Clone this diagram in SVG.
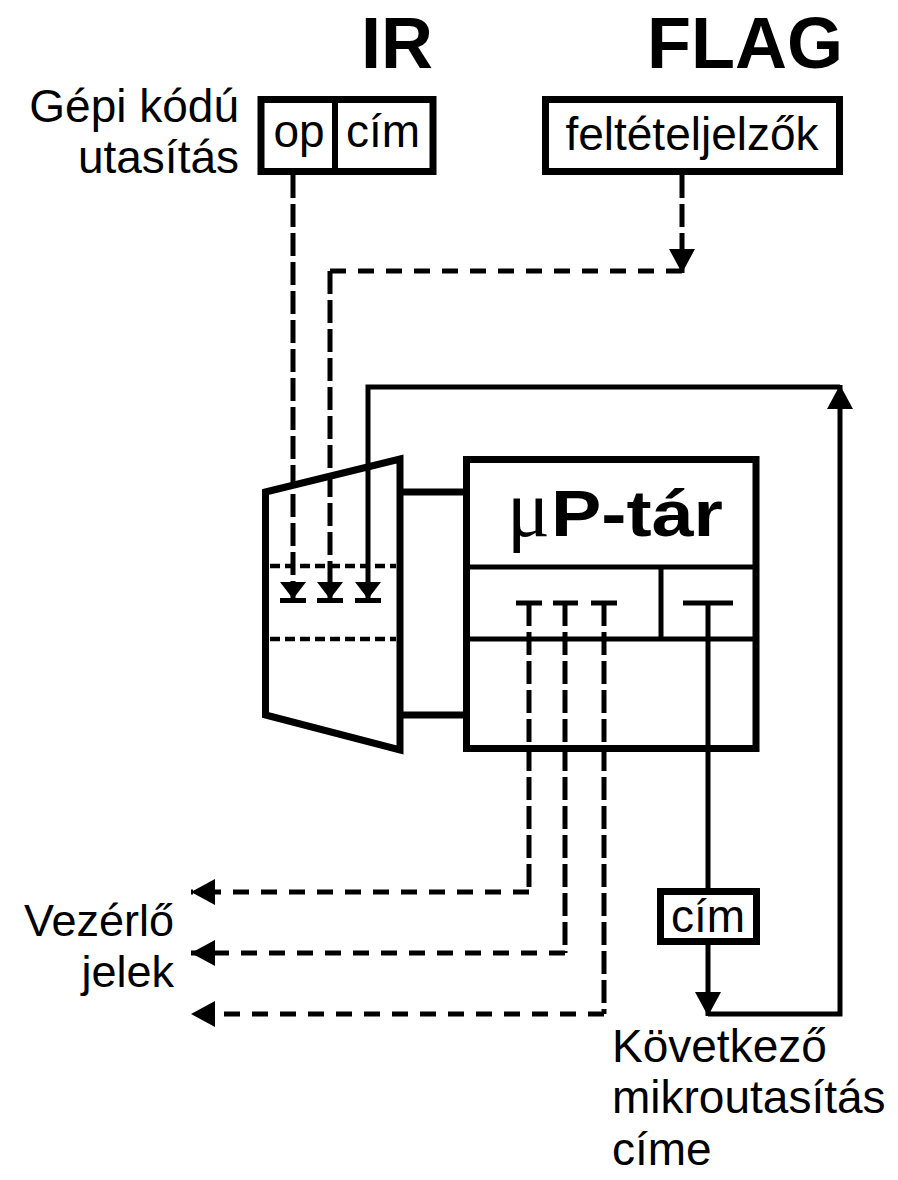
<svg xmlns="http://www.w3.org/2000/svg" width="898" height="1180" viewBox="0 0 898 1180">
<style>
text{font-family:"Liberation Sans",Arial,sans-serif;fill:#000}
.t{font-size:46px}
.big{font-size:72px;font-weight:bold}
.box{fill:#fff;stroke:#000;stroke-width:7}
.thin{fill:none;stroke:#000;stroke-width:5}
.dv{fill:none;stroke:#000;stroke-width:5;stroke-dasharray:23 6}
.dh{fill:none;stroke:#000;stroke-width:5;stroke-dasharray:16 12}
.dm{fill:none;stroke:#000;stroke-width:4.5;stroke-dasharray:10 5}
</style>
<defs>
<marker id="ah" markerUnits="userSpaceOnUse" markerWidth="30" markerHeight="30" refX="24" refY="13" orient="auto">
<path d="M0,0 L24,13 L0,26 Z" fill="#000"/>
</marker>
<marker id="am" markerUnits="userSpaceOnUse" markerWidth="30" markerHeight="30" refX="17" refY="13" orient="auto">
<path d="M0,0 L17,13 L0,26 Z" fill="#000"/>
<rect x="16" y="0" width="5" height="26" fill="#000"/>
</marker>
</defs>

<g id="ir">
<text class="big" x="433" y="68" text-anchor="end">IR</text>
<text class="t" x="239" y="122" text-anchor="end">Gépi kódú</text>
<text class="t" x="239" y="173" text-anchor="end">utasítás</text>
<rect class="box" x="261" y="99.5" width="172" height="72"/>
<line x1="335" y1="99" x2="335" y2="172" stroke="#000" stroke-width="6"/>
<text class="t" x="299" y="147" text-anchor="middle">op</text>
<text class="t" x="383" y="147" text-anchor="middle">cím</text>
</g>

<g id="flag">
<text class="big" x="843" y="68" text-anchor="end">FLAG</text>
<rect class="box" x="545.5" y="99.5" width="294" height="72"/>
<text class="t" x="692" y="150" text-anchor="middle">feltételjelzők</text>
</g>

<g id="mux">
<polygon class="box" points="265.5,492 400,459 400,750 265.5,715"/>
<line class="dm" x1="270" y1="566" x2="396" y2="566"/>
<line class="dm" x1="270" y1="639" x2="396" y2="639"/>
</g>

<g id="uptar">
<rect class="box" x="466.5" y="459.5" width="289.5" height="289"/>
<line class="thin" x1="466" y1="567" x2="756" y2="567"/>
<line class="thin" x1="466" y1="639" x2="756" y2="639"/>
<line class="thin" x1="661" y1="567" x2="661" y2="639"/>
<text x="507" y="536" style="font-family:'Liberation Serif',serif;font-size:80px">μ</text>
<text x="551" y="536" textLength="172" lengthAdjust="spacingAndGlyphs" style="font-size:65px;font-weight:bold">P-tár</text>
<line class="thin" x1="516" y1="603" x2="542" y2="603"/>
<line class="thin" x1="553" y1="603" x2="578" y2="603"/>
<line class="thin" x1="591" y1="603" x2="617" y2="603"/>
<line class="thin" x1="683" y1="603" x2="733" y2="603"/>
</g>

<g id="cim">
<rect class="box" x="660.5" y="891.5" width="96" height="50"/>
<text class="t" x="708" y="932" text-anchor="middle">cím</text>
</g>

<g id="labels">
<text x="174" y="936" text-anchor="end" style="font-size:45px">Vezérlő</text>
<text x="174" y="987" text-anchor="end" style="font-size:45px">jelek</text>
<text class="t" x="612" y="1062">Következő</text>
<text class="t" x="612" y="1113">mikroutasítás</text>
<text class="t" x="612" y="1165">címe</text>
</g>

<g id="connectors">
<line class="dv" x1="293" y1="175" x2="293" y2="599" marker-end="url(#am)"/>
<line class="dv" x1="682" y1="175" x2="682" y2="273" marker-end="url(#ah)"/>
<line class="dh" x1="682" y1="271" x2="330" y2="271"/>
<line class="dv" x1="330" y1="271" x2="330" y2="599" marker-end="url(#am)"/>
<path class="thin" d="M840,387 H368 V599" marker-end="url(#am)"/>
<path class="thin" d="M708,1014 H840 V385" marker-end="url(#ah)"/>
<line class="thin" x1="708" y1="603" x2="708" y2="891"/>
<line class="thin" x1="708" y1="942" x2="708" y2="1016" marker-end="url(#ah)"/>
<line x1="400" y1="492" x2="466" y2="492" stroke="#000" stroke-width="7"/>
<line x1="400" y1="715" x2="466" y2="715" stroke="#000" stroke-width="7"/>
<line class="dv" x1="529" y1="603" x2="529" y2="892"/>
<line class="dh" x1="529" y1="892" x2="191" y2="892" marker-end="url(#ah)"/>
<line class="dv" x1="565" y1="603" x2="565" y2="953"/>
<line class="dh" x1="565" y1="953" x2="191" y2="953" marker-end="url(#ah)"/>
<line class="dv" x1="604" y1="603" x2="604" y2="1014"/>
<line class="dh" x1="604" y1="1014" x2="191" y2="1014" marker-end="url(#ah)"/>
</g>
</svg>
